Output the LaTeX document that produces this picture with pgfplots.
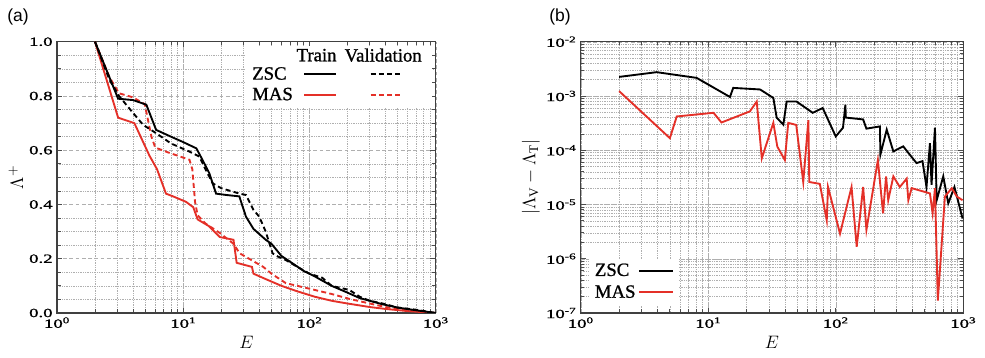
\documentclass[border=0pt]{standalone}
\usepackage{pgfplots}
\pgfplotsset{compat=1.18}
\usepackage{fontspec}
\setmainfont{Liberation Serif}
\newfontfamily\labfont{Liberation Sans}
\newfontfamily\tickfont[FakeStretch=1.5, FakeBold=1.2]{Liberation Serif}
\newfontfamily\legfont[FakeBold=1.0]{Liberation Serif}
\definecolor{myred}{RGB}{228,48,40}
\definecolor{gridc}{RGB}{175,175,175}
\tikzset{
  trainline/.style={line width=1.5pt},
  valline/.style={line width=1.5pt, dash pattern=on 4pt off 2.6pt},
}
\pgfplotsset{
  every axis/.append style={
    scale only axis,
    xmode=log, xmin=1, xmax=1000,
    xtick={1,10,100,1000},
    xticklabels={10\textsuperscript{0},10\textsuperscript{1},10\textsuperscript{2},10\textsuperscript{3}},
    grid=both,
    major grid style={densely dashed, gridc, line width=0.4pt},
    minor grid style={densely dotted, gridc, line width=0.4pt},
    axis line style={line width=0.9pt, black!75},
    tick style={black!70, line width=0.6pt},
    tick align=inside,
    ticklabel style={font=\tickfont\fontsize{10}{11}\selectfont},
    label style={font=\fontsize{15}{16}\selectfont},
    xlabel={$E$},
    /pgf/number format/assume math mode=true,
  },
}
\begin{document}
\begin{tikzpicture}
\path[use as bounding box] (-45.6pt,-36pt) rectangle (742.4pt,250.4pt);
\node[font=\labfont\fontsize{14}{15}\selectfont] at (-31.2pt,236.8pt) {(a)};
\node[font=\labfont\fontsize{14}{15}\selectfont] at (402.4pt,236.8pt) {(b)};
\begin{axis}[
  at={(0pt,0pt)}, anchor=south west,
  width=303pt, height=217pt,
  ymin=0, ymax=1,
  ytick={0,0.2,0.4,0.6,0.8,1.0},
  yticklabels={0.0,0.2,0.4,0.6,0.8,1.0},
  minor y tick num=3,
  ylabel={$\Lambda^{+}$},
  ylabel style={yshift=-2pt},
  legend columns=3,
  legend style={draw=none, fill=white, at={(0.99,0.985)}, anchor=north east,
    font=\legfont\fontsize{15}{16}\selectfont, column sep=1pt, row sep=1pt},
  legend cell align=left,
]
% legend header
\addlegendimage{empty legend}\addlegendentry{}
\addlegendimage{legend image code/.code={\node[inner sep=0pt, anchor=center] at (0.6cm,0pt) {Train};}}\addlegendentry{}
\addlegendimage{legend image code/.code={\node[inner sep=0pt, anchor=center] at (0.95cm,0pt) {Validation};}}\addlegendentry{}
\addlegendimage{empty legend}\addlegendentry{ZSC}
\addlegendimage{legend image code/.code={\draw[black, line width=1.6pt] (0.25cm,0pt) -- (1.15cm,0pt);}}\addlegendentry{}
\addlegendimage{legend image code/.code={\draw[black, line width=1.6pt, dash pattern=on 4pt off 2.6pt] (0.6cm,0pt) -- (1.45cm,0pt);}}\addlegendentry{}
\addlegendimage{empty legend}\addlegendentry{MAS}
\addlegendimage{legend image code/.code={\draw[myred, line width=1.6pt] (0.25cm,0pt) -- (1.15cm,0pt);}}\addlegendentry{}
\addlegendimage{legend image code/.code={\draw[myred, line width=1.6pt, dash pattern=on 4pt off 2.6pt] (0.6cm,0pt) -- (1.45cm,0pt);}}\addlegendentry{}
% MAS train
\addplot[trainline, myred, forget plot] coordinates {
(2,1.0) (3.05,0.72) (4.1,0.70) (5.4,0.58) (6.2,0.53) (7.3,0.44) (8.3,0.43) (10.5,0.41) (12,0.39) (13,0.345) (16,0.32) (19.5,0.28) (25,0.27) (26.5,0.185) (35,0.17) (36,0.145) (45,0.125) (60,0.1) (80,0.08) (110,0.06) (150,0.045) (200,0.035) (300,0.022) (400,0.015) (600,0.007) (1000,0)};
% MAS validation
\addplot[valline, myred, forget plot] coordinates {
(2,1.0) (2.6,0.87) (3.1,0.81) (4,0.795) (4.95,0.77) (5.6,0.65) (6,0.61) (7.8,0.59) (11.2,0.565) (11.8,0.53) (12.4,0.41) (13,0.36) (15,0.33) (19.5,0.295) (25,0.255) (28,0.22) (43,0.17) (50,0.145) (65,0.11) (110,0.085) (150,0.07) (207,0.052) (300,0.035) (400,0.022) (600,0.01) (1000,0)};
% ZSC validation
\addplot[valline, black, forget plot] coordinates {
(2,1.0) (2.6,0.86) (3.1,0.80) (3.65,0.76) (4.8,0.694) (6,0.665) (8,0.625) (11.2,0.595) (13.4,0.577) (15,0.53) (17.1,0.478) (20,0.46) (28,0.44) (31.4,0.435) (36,0.38) (40,0.355) (45,0.3) (51,0.22) (55,0.21) (65,0.195) (80,0.17) (100,0.145) (126,0.13) (150,0.1) (207,0.085) (250,0.06) (300,0.045) (380,0.035) (500,0.02) (700,0.012) (1000,0)};
% ZSC train
\addplot[trainline, black, forget plot] coordinates {
(2,1.0) (3.05,0.79) (4,0.785) (5.1,0.768) (6.1,0.675) (8,0.65) (10,0.63) (12.7,0.607) (14,0.57) (16.1,0.515) (18.2,0.44) (22,0.435) (27.8,0.43) (31.4,0.355) (36,0.31) (45,0.27) (50,0.255) (60,0.21) (75,0.18) (90,0.155) (110,0.135) (150,0.1) (200,0.075) (250,0.055) (300,0.045) (380,0.032) (500,0.02) (700,0.01) (1000,0.0)};
\end{axis}
\begin{axis}[
  at={(419pt,0pt)}, anchor=south west,
  width=306pt, height=217pt,
  ymode=log, ymin=1e-7, ymax=1e-2,
  ytick={1e-7,1e-6,1e-5,1e-4,1e-3,1e-2},
  yticklabels={10\textsuperscript{-7},10\textsuperscript{-6},10\textsuperscript{-5},10\textsuperscript{-4},10\textsuperscript{-3},10\textsuperscript{-2}},
  ylabel={$|\Lambda_{\mathrm{V}}-\Lambda_{\mathrm{T}}|$},
  ylabel style={yshift=-2pt},
  legend style={draw=none, fill=white, at={(0.02,0.03)}, anchor=south west,
    font=\legfont\fontsize{15}{16}\selectfont, row sep=2pt},
  legend plot pos=right,
  legend cell align=left,
  legend image code/.code={\draw[#1, line width=1.6pt] (0.45cm,0cm) -- (1.4cm,0cm);},
]
\addplot[trainline, black] coordinates {
(2,2.25e-3) (3.94,2.75e-3) (8.1,2.16e-3) (14.8,9.6e-4) (15.7,1.41e-3) (25.5,1.32e-3) (32.4,9.2e-4) (34.4,4e-4) (38.8,2.96e-4) (41.2,7.9e-4) (49.3,7.9e-4) (66,4.9e-4) (79,6e-4) (100,1.8e-4) (114,2.6e-4) (119,6.9e-4) (120,4e-4) (164,3.7e-4) (174,2.5e-4) (222,2.75e-4) (224,8.3e-5) (251,2.4e-4) (283,9.5e-5) (338,1.18e-4) (430,5.8e-5) (479,6.3e-5) (515,2.1e-5) (548,1.35e-4) (564,2.3e-5) (600,2.6e-4) (619,1.2e-5) (697,3.3e-5) (763,1.05e-5) (853,2.1e-5) (988,5.5e-6)};
\addlegendentry{ZSC}
\addplot[trainline, myred] coordinates {
(2,1.23e-3) (5.0,1.67e-4) (5.66,4.2e-4) (11,4.9e-4) (12.7,3.25e-4) (21.2,5.2e-4) (24,7.9e-4) (26.3,7.1e-5) (32.4,3.2e-4) (34.8,1.17e-4) (39.9,6.6e-5) (42.4,3.2e-4) (49,2.93e-4) (55.6,2.6e-5) (61,3.6e-4) (62,2.6e-5) (75,2.4e-5) (85,5.1e-6) (87,2.1e-5) (108,2.9e-6) (133,2.1e-5) (146,1.66e-6) (164,2.1e-5) (174,3.4e-6) (214,6.6e-5) (235,6.9e-6) (248,3.3e-5) (258,1.2e-5) (283,3.3e-5) (318,2.1e-5) (360,3.0e-5) (371,1.2e-5) (394,2.0e-5) (485,1.74e-5) (548,1.6e-5) (575,6.9e-6) (600,2e-5) (632,1.7e-7) (718,1.4e-5) (813,2e-5) (890,1.4e-5) (988,1.2e-5)};
\addlegendentry{MAS}
\end{axis}
\end{tikzpicture}
\end{document}
